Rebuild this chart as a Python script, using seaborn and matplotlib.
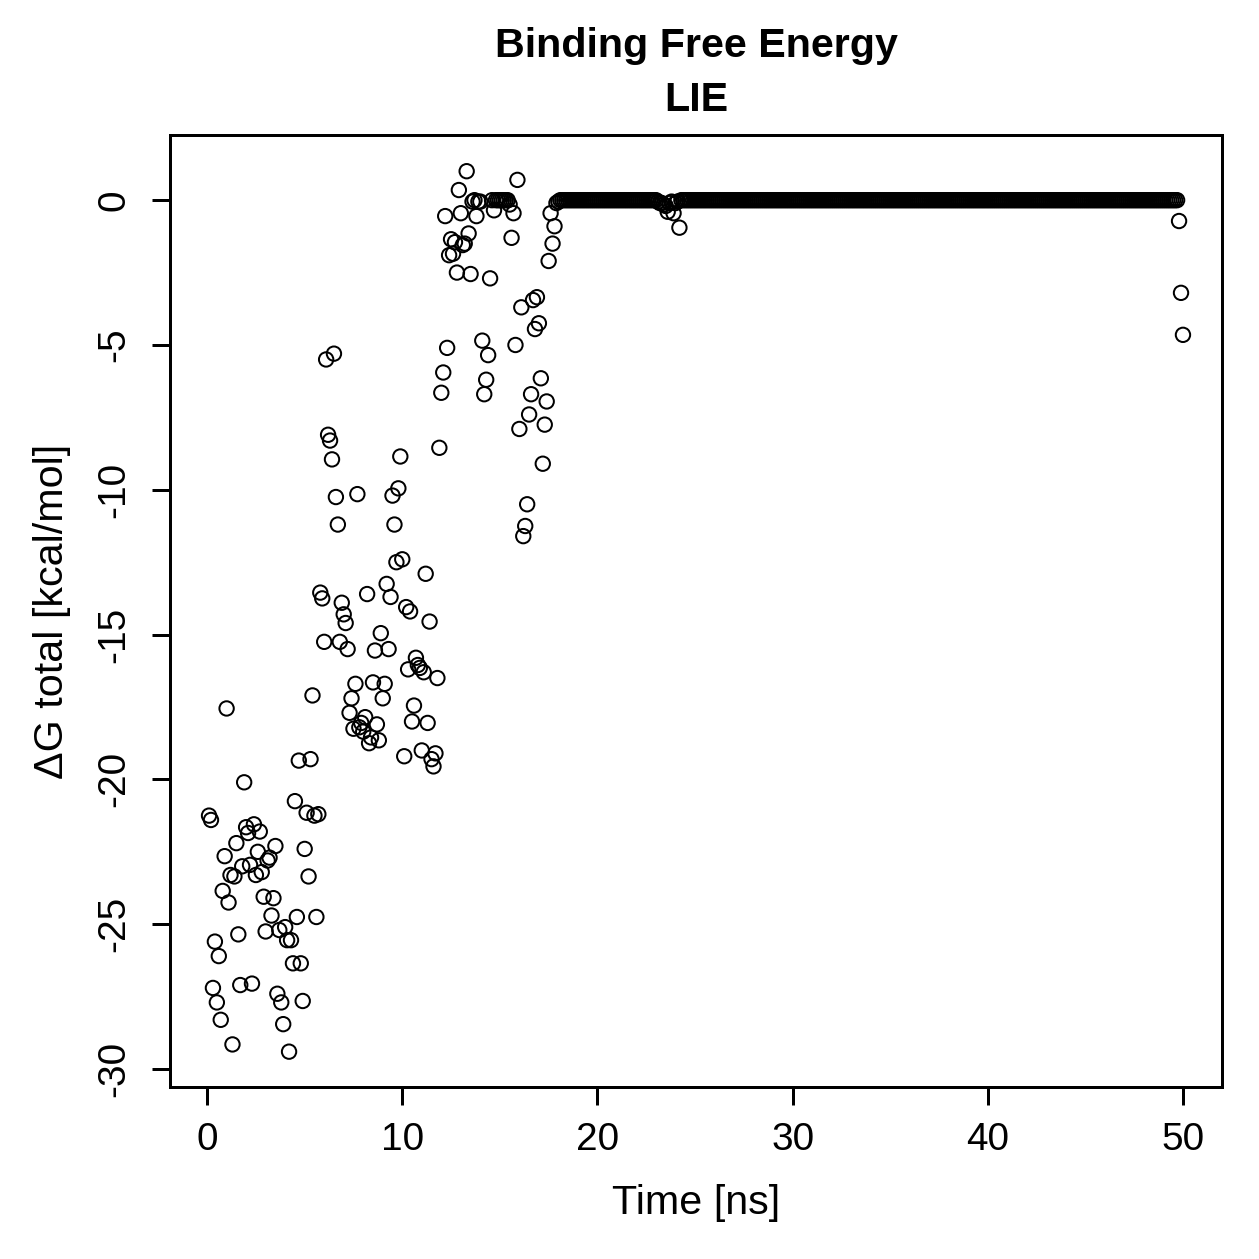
import numpy as np
import pandas as pd
import matplotlib
matplotlib.use("Agg")
import matplotlib.pyplot as plt
import seaborn as sns

# ---- data ----
# sampling: every 0.1 ns from 0.1 to 50.0 ns
t_start, t_step = 0.1, 0.1

# values from 0.1 to 18.0 ns
dg_early = [
    -21.25, -21.4, -27.2, -25.6, -27.7, -26.1, -28.3, -23.85, -22.65, -17.55,
    -24.25, -23.3, -29.15, -23.35, -22.2, -25.35, -27.1, -23.0, -20.1, -21.65,
    -21.85, -22.95, -27.05, -21.55, -23.3, -22.5, -21.8, -23.2, -24.05, -25.25,
    -22.8, -22.7, -24.7, -24.1, -22.3, -27.4, -25.2, -27.7, -28.45, -25.1,
    -25.55, -29.4, -25.55, -26.35, -20.75, -24.75, -19.35, -26.35, -27.65, -22.4,
    -21.15, -23.35, -19.3, -17.1, -21.25, -24.75, -21.2, -13.55, -13.75, -15.25,
    -5.5, -8.1, -8.3, -8.95, -5.3, -10.25, -11.2, -15.25, -13.9, -14.3,
    -14.6, -15.5, -17.7, -17.2, -18.25, -16.7, -10.15, -18.2, -18.05, -18.35,
    -17.85, -13.6, -18.75, -18.55, -16.65, -15.55, -18.1, -18.65, -14.95, -17.2,
    -16.7, -13.25, -15.5, -13.7, -10.2, -11.2, -12.5, -9.95, -8.85, -12.4,
    -19.2, -14.05, -16.2, -14.2, -18.0, -17.45, -15.8, -16.05, -16.15, -19.0,
    -16.3, -12.9, -18.05, -14.55, -19.3, -19.55, -19.1, -16.5, -8.55, -6.65,
    -5.95, -0.55, -5.1, -1.9, -1.35, -1.85, -1.45, -2.5, 0.35, -0.45,
    -1.55, -1.5, 1.0, -1.15, -2.55, -0.05, 0.0, -0.55, -0.05, -0.05,
    -4.85, -6.7, -6.2, -5.35, -2.7, 0.0, -0.35, 0.0, 0.0, 0.0,
    0.0, 0.0, 0.0, 0.0, -0.15, -1.3, -0.45, -5.0, 0.7, -7.9,
    -3.7, -11.6, -11.25, -10.5, -7.4, -6.7, -3.45, -4.45, -3.35, -4.25,
    -6.15, -9.1, -7.75, -6.95, -2.1, -0.45, -1.5, -0.9, -0.1, -0.05,
]

# values from 18.1 to 49.7 ns (plateau at zero with a small dip near 23-24 ns)
dg_plateau_a = [0.0] * 50            # 18.1 .. 23.0
dg_dip = [-0.05, -0.1, -0.1, -0.15, -0.2, -0.4, -0.1, -0.05, -0.45, -0.1, -0.05, -0.95]  # 23.1 .. 24.2
dg_plateau_b = [0.0] * 255           # 24.3 .. 49.7
# values from 49.8 to 50.0 ns
dg_late = [-0.72, -3.2, -4.65]

dg_total = dg_early + dg_plateau_a + dg_dip + dg_plateau_b + dg_late
time_ns = np.round(t_start + t_step * np.arange(len(dg_total)), 1)

df = pd.DataFrame({"time": time_ns, "dg": dg_total})

title_line1 = "Binding Free Energy"
title_line2 = "LIE"
x_label = "Time [ns]"
y_label = "\u0394G total [kcal/mol]"
x_ticks = [0, 10, 20, 30, 40, 50]
y_ticks = [0, -5, -10, -15, -20, -25, -30]

# ---- plot ----
sns.set_style("ticks")
plt.rcParams["font.family"] = ["Liberation Sans", "DejaVu Sans"]
plt.rcParams["text.color"] = "black"
plt.rcParams["axes.labelcolor"] = "black"

DPI = 180
fig = plt.figure(figsize=(1259 / DPI, 1259 / DPI), dpi=DPI)
ax = fig.add_axes([170 / 1259, 1 - 1087 / 1259, 1052 / 1259, 952 / 1259])

sns.scatterplot(data=df, x="time", y="dg", ax=ax, marker="o", s=33,
                facecolor="none", edgecolor="black", linewidth=0.8,
                legend=False)

ax.set_xlim(-1.9, 52.0)
ax.set_ylim(-30.62, 2.25)
ax.set_xticks(x_ticks)
ax.set_yticks(y_ticks)
ax.set_xticklabels([str(v) for v in x_ticks])
ax.set_yticklabels([str(v) for v in y_ticks], rotation=90, va="center")

for sp in ax.spines.values():
    sp.set_visible(True)
    sp.set_linewidth(1.2)
    sp.set_color("black")
ax.tick_params(axis="both", direction="out", length=7.2, width=1.2,
               labelsize=15.5, colors="black")
ax.tick_params(axis="x", pad=7.0)
ax.tick_params(axis="y", pad=8.0)

ax.set_xlabel(x_label, fontsize=16.5, color="black")
ax.set_ylabel(y_label, fontsize=16.5, color="black")
ax.xaxis.set_label_coords(0.5, -(1203 - 1087) / 952)
ax.xaxis.label.set_va("center")
ax.yaxis.set_label_coords((52 - 170) / 1052, 0.5)
ax.yaxis.label.set_va("center")

cx = (170 + 1222) / 2 / 1259
fig.text(cx, 1 - 57 / 1259, title_line1, ha="center", va="baseline",
         fontsize=16.5, fontweight="bold", color="black")
fig.text(cx, 1 - 111 / 1259, title_line2, ha="center", va="baseline",
         fontsize=16.5, fontweight="bold", color="black")

fig.savefig("out.png", dpi=DPI, facecolor="white")
